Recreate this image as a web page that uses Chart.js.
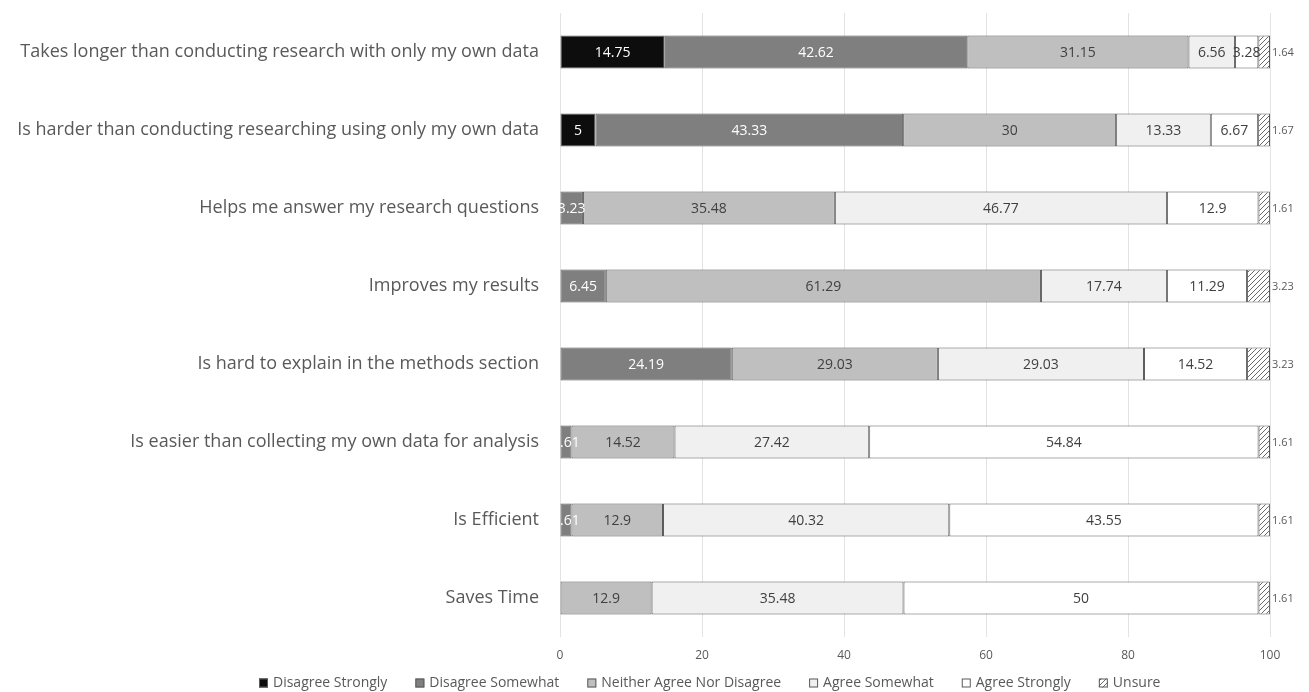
<!DOCTYPE html>
<html>
<head>
<meta charset="utf-8">
<script src="https://cdn.jsdelivr.net/npm/chart.js@4.4.0/dist/chart.umd.min.js"></script>
<style>
    html, body { margin: 0; padding: 0; background: #fff; }
    #wrap { width: 1309px; height: 692px; }
</style>
</head>
<body>
<div id="wrap"><canvas id="surveyChart"></canvas></div>
<script>
// Survey statements (top to bottom)
const statements = [
    'Takes longer than conducting research with only my own data',
    'Is harder than conducting researching using only my own data',
    'Helps me answer my research questions',
    'Improves my results',
    'Is hard to explain in the methods section',
    'Is easier than collecting my own data for analysis',
    'Is Efficient',
    'Saves Time'
];

// Percent of responses per answer
const disagreeStrongly = [14.75, 5, null, null, null, null, null, null];
const disagreeSomewhat = [42.62, 43.33, 3.23, 6.45, 24.19, 1.61, 1.61, null];
const neitherAgree = [31.15, 30, 35.48, 61.29, 29.03, 14.52, 12.9, 12.9];
const agreeSomewhat = [6.56, 13.33, 46.77, 17.74, 29.03, 27.42, 40.32, 35.48];
const agreeStrongly = [3.28, 6.67, 12.9, 11.29, 14.52, 54.84, 43.55, 50];
const unsure = [1.64, 1.67, 1.61, 3.23, 3.23, 1.61, 1.61, 1.61];

const xTicks = [0, 20, 40, 60, 80, 100];

const FONT = '"Open Sans", sans-serif';

// Hatch fill for "Unsure"
function makeHatch() {
    const c = document.createElement('canvas');
    c.width = 5;
    c.height = 5;
    const g = c.getContext('2d');
    g.fillStyle = '#ffffff';
    g.fillRect(0, 0, 5, 5);
    g.strokeStyle = '#6a6a6a';
    g.lineWidth = 1;
    g.beginPath();
    g.moveTo(-1, 6); g.lineTo(6, -1);
    g.moveTo(-1, 1); g.lineTo(1, -1);
    g.moveTo(4, 6); g.lineTo(6, 4);
    g.stroke();
    return g.createPattern(c, 'repeat');
}

// Value labels drawn on the bars
const barLabels = {
    id: 'barLabels',
    afterDatasetsDraw(chart) {
        const ctx = chart.ctx;
        ctx.save();
        ctx.textBaseline = 'middle';
        chart.data.datasets.forEach((ds, i) => {
            const meta = chart.getDatasetMeta(i);
            if (meta.hidden) return;
            meta.data.forEach((bar, j) => {
                const v = ds.data[j];
                if (v === null || v === undefined) return;
                if (ds.outsideLabel) {
                    ctx.font = '11px ' + FONT;
                    ctx.fillStyle = '#595959';
                    ctx.textAlign = 'left';
                    ctx.fillText(String(v), bar.x + 2, bar.y + 1);
                } else {
                    ctx.font = '14px ' + FONT;
                    ctx.fillStyle = ds.labelColor;
                    ctx.textAlign = 'center';
                    ctx.fillText(String(v), (bar.x + bar.base) / 2, bar.y + 1);
                }
            });
        });
        ctx.restore();
    }
};

// Legend row under the axis (wider item spacing than the built-in legend allows)
const bottomLegend = {
    id: 'bottomLegend',
    afterDraw(chart) {
        const ctx = chart.ctx;
        const y = 683;
        let x = 259;
        ctx.save();
        ctx.font = '14px ' + FONT;
        ctx.textBaseline = 'middle';
        ctx.textAlign = 'left';
        chart.data.datasets.forEach(ds => {
            ctx.fillStyle = ds.backgroundColor;
            ctx.fillRect(x, y - 4.5, 9, 9);
            ctx.strokeStyle = '#5a5a5a';
            ctx.lineWidth = 1;
            ctx.strokeRect(x + 0.5, y - 4, 8, 8);
            ctx.fillStyle = '#595959';
            ctx.fillText(ds.label, x + 14, y);
            x += 14 + ctx.measureText(ds.label).width + 28;
        });
        ctx.restore();
    }
};

function series(label, data, color, labelColor) {
    return {
        label: label,
        data: data,
        backgroundColor: color,
        borderColor: '#5a5a5a',
        borderWidth: 1,
        borderSkipped: false,
        barPercentage: 0.42,
        categoryPercentage: 1,
        labelColor: labelColor
    };
}

const datasets = [
    series('Disagree Strongly', disagreeStrongly, '#0d0d0d', '#ffffff'),
    series('Disagree Somewhat', disagreeSomewhat, '#7f7f7f', '#ffffff'),
    series('Neither Agree Nor Disagree', neitherAgree, '#bfbfbf', '#404040'),
    series('Agree Somewhat', agreeSomewhat, '#f0f0f0', '#404040'),
    series('Agree Strongly', agreeStrongly, '#ffffff', '#404040'),
    series('Unsure', unsure, makeHatch(), '#404040')
];
datasets[5].outsideLabel = true;

new Chart(document.getElementById('surveyChart'), {
    type: 'bar',
    data: { labels: statements, datasets: datasets },
    plugins: [barLabels, bottomLegend],
    options: {
        indexAxis: 'y',
        responsive: true,
        maintainAspectRatio: false,
        animation: false,
        layout: { padding: { top: 13, right: 39, left: 10, bottom: 30 } },
        plugins: {
            legend: { display: false },
            tooltip: { enabled: false }
        },
        scales: {
            x: {
                stacked: true,
                min: 0,
                max: 100,
                afterBuildTicks: (scale) => { scale.ticks = xTicks.map(v => ({ value: v })); },
                afterFit: (scale) => { scale.height = 25; },
                grid: { color: '#e3e3e3', drawTicks: false },
                border: { display: false },
                ticks: {
                    color: '#595959',
                    padding: 11,
                    font: { family: FONT, size: 12 }
                }
            },
            y: {
                stacked: true,
                grid: { display: false, drawTicks: false },
                border: { display: false },
                afterFit: (scale) => {
                    scale.width = 550;
                    scale.paddingTop = 0;
                    scale.paddingBottom = 0;
                },
                ticks: {
                    color: '#595959',
                    padding: 21,
                    font: { family: FONT, size: 18 }
                }
            }
        }
    }
});
</script>
</body>
</html>
